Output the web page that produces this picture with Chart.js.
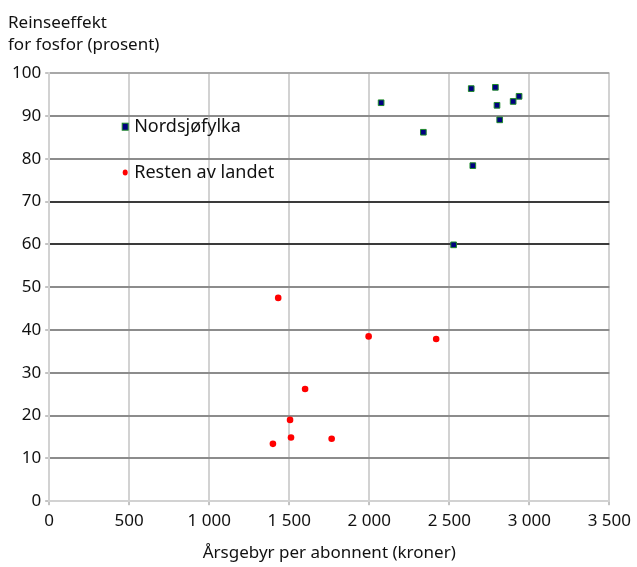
<!DOCTYPE html>
<html>
<head>
<meta charset="utf-8">
<script src="https://cdn.jsdelivr.net/npm/chart.js@4"></script>
<style>
  html, body { margin: 0; padding: 0; background: #fff; }
  #wrap { width: 637px; height: 567px; }
</style>
</head>
<body>
<div id="wrap"><canvas id="chart" width="637" height="567"></canvas></div>
<script>
// Nordsjøfylka: [årsgebyr, reinseeffekt]
const nordsjoX = [2074, 2338, 2637, 2788, 2798, 2815, 2899, 2936, 2647, 2527];
const nordsjoY = [93.1, 86.2, 96.4, 96.7, 92.5, 89.1, 93.4, 94.6, 78.4, 59.9];
// Resten av landet
const restenX = [1431, 1996, 2418, 1599, 1505, 1511, 1398, 1765];
const restenY = [47.5, 38.5, 37.9, 26.2, 19.0, 14.9, 13.4, 14.6];

const seriesNames = ['Nordsjøfylka', 'Resten av landet'];
const xTicks = [0, 500, 1000, 1500, 2000, 2500, 3000, 3500];
const yTicks = [0, 10, 20, 30, 40, 50, 60, 70, 80, 90, 100];

const fontFamily = "'Noto Sans', 'DejaVu Sans', sans-serif";

function toPoints(xs, ys) {
    return xs.map((x, i) => ({ x: x, y: ys[i] }));
}

function fmt(v) {
    return String(v).replace(/\B(?=(\d{3})+(?!\d))/g, ' ');
}

// legend drawn inside plot area
const innerLegend = {
    id: 'innerLegend',
    afterDatasetsDraw(chart) {
        const ctx = chart.ctx;
        const xs = chart.scales.x;
        const ys = chart.scales.y;
        const rows = [
            { y: ys.getPixelForValue(87.5), ds: chart.data.datasets[0] },
            { y: ys.getPixelForValue(76.8), ds: chart.data.datasets[1] }
        ];
        ctx.save();
        ctx.font = '18px ' + fontFamily;
        ctx.textBaseline = 'middle';
        rows.forEach(r => {
            const mx = xs.getPixelForValue(475);
            ctx.fillStyle = r.ds.backgroundColor;
            ctx.strokeStyle = r.ds.borderColor;
            ctx.lineWidth = 1;
            if (r.ds.pointStyle === 'rect') {
                ctx.fillRect(mx - 3, r.y - 3.5, 6, 7);
                ctx.strokeRect(mx - 3, r.y - 3.5, 6, 7);
            } else {
                ctx.beginPath();
                ctx.ellipse(mx, r.y, 2.5, 3, 0, 0, Math.PI * 2);
                ctx.fill();
            }
            ctx.fillStyle = '#111';
            ctx.textAlign = 'left';
            ctx.fillText(r.ds.label, mx + 9, r.y);
        });
        ctx.restore();
    }
};

const ctx = document.getElementById('chart').getContext('2d');
new Chart(ctx, {
    type: 'scatter',
    data: {
        datasets: [{
            label: seriesNames[0],
            data: toPoints(nordsjoX, nordsjoY),
            pointStyle: 'rect',
            pointRadius: 4,
            backgroundColor: '#000080',
            borderColor: '#1f8a2a',
            borderWidth: 1
        }, {
            label: seriesNames[1],
            data: toPoints(restenX, restenY),
            pointStyle: 'circle',
            pointRadius: 3.3,
            backgroundColor: '#ff0000',
            borderColor: '#ff0000',
            borderWidth: 0
        }]
    },
    options: {
        responsive: false,
        animation: false,
        layout: { padding: { left: 8, right: 16, top: 4, bottom: 4 } },
        plugins: {
            legend: { display: false },
            tooltip: { enabled: false },
            title: {
                display: true,
                text: ['Reinseeffekt', 'for fosfor (prosent)'],
                align: 'start',
                color: '#111',
                font: { family: fontFamily, size: 17, weight: 'normal', lineHeight: 1.3 },
                padding: { top: 8, bottom: 17 }
            }
        },
        scales: {
            x: {
                type: 'linear',
                min: 0,
                max: 3500,
                afterBuildTicks: s => { s.ticks = xTicks.map(v => ({ value: v })); },
                ticks: {
                    color: '#111',
                    font: { family: fontFamily, size: 17 },
                    padding: 6,
                    maxRotation: 0,
                    callback: v => fmt(v)
                },
                grid: { color: '#d2d2d2', lineWidth: 2, tickLength: 4, tickColor: '#888', tickWidth: 1 },
                border: { color: '#d2d2d2', width: 2 },
                title: {
                    display: true,
                    text: 'Årsgebyr per abonnent (kroner)',
                    color: '#111',
                    font: { family: fontFamily, size: 17 },
                    padding: { top: 5, bottom: 0 }
                }
            },
            y: {
                type: 'linear',
                min: 0,
                max: 100,
                afterBuildTicks: s => { s.ticks = yTicks.map(v => ({ value: v })); },
                ticks: {
                    color: '#111',
                    font: { family: fontFamily, size: 17 },
                    padding: 4
                },
                grid: {
                    lineWidth: 2,
                    tickLength: 4,
                    tickWidth: 1,
                    tickColor: '#888',
                    color: c => {
                        const v = c.tick && c.tick.value;
                        if (v === 60 || v === 70) return '#3a3a3a';
                        if (v === 100) return '#a8a8a8';
                        if (v === 0) return '#d2d2d2';
                        return '#8c8c8c';
                    }
                },
                border: { color: '#d2d2d2', width: 2 }
            }
        }
    },
    plugins: [innerLegend]
});
</script>
</body>
</html>
